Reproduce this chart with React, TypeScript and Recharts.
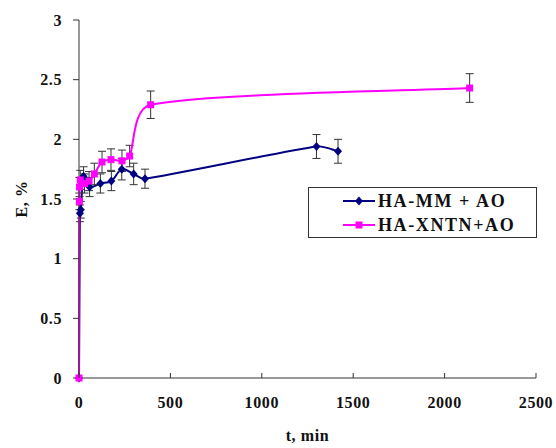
import React from "react";
import { LineChart, Line, XAxis, YAxis, ErrorBar, Legend } from "recharts";

// HA-MM + AO (navy diamonds)
const mmTime = [0, 5, 10, 25, 58, 117, 177, 234, 299, 361, 1299, 1417];
const mmE = [0, 1.38, 1.41, 1.69, 1.6, 1.63, 1.65, 1.75, 1.71, 1.67, 1.94, 1.9];
const mmErr = [0, 0.07, 0.07, 0.08, 0.08, 0.08, 0.08, 0.09, 0.09, 0.08, 0.1, 0.1];

// HA-XNTN+AO (magenta squares)
const xnTime = [0, 2, 3, 7, 30, 55, 84, 126, 175, 235, 277, 392, 2137];
const xnE = [0, 1.48, 1.6, 1.66, 1.63, 1.65, 1.71, 1.81, 1.83, 1.82, 1.86, 2.29, 2.43];
const xnErr = [0, 0.07, 0.08, 0.08, 0.08, 0.08, 0.09, 0.09, 0.09, 0.09, 0.09, 0.115, 0.12];

const xTicks = [0, 500, 1000, 1500, 2000, 2500];
const yTicks = [0, 0.5, 1, 1.5, 2, 2.5, 3];

const seriesNames = ["HA-MM + AO", "HA-XNTN+AO"];
const NAVY = "#000080";
const MAGENTA = "#ff00ff";
const FONT = "'Liberation Serif', 'Times New Roman', serif";

const mmData = mmTime.map((t, i) => ({ t, e: mmE[i], err: mmErr[i] }));
const xnData = xnTime.map((t, i) => ({ t, e: xnE[i], err: xnErr[i] }));

// Excel-like smoothing: Catmull-Rom tangents, handles capped at 1/3 of the segment
const smoothCurve = (context: any) => {
  let pts: number[][] = [];
  const tangent = (i: number) => {
    const a = pts[i - 1] || pts[i];
    const b = pts[i + 1] || pts[i];
    const dx = b[0] - a[0];
    const dy = b[1] - a[1];
    const len = Math.hypot(dx, dy) || 1;
    return [dx / len, dy / len, len / 6];
  };
  return {
    areaStart() {},
    areaEnd() {},
    lineStart() {
      pts = [];
    },
    point(x: number, y: number) {
      pts.push([+x, +y]);
    },
    lineEnd() {
      if (!pts.length) return;
      context.moveTo(pts[0][0], pts[0][1]);
      for (let i = 0; i < pts.length - 1; i++) {
        const p1 = pts[i];
        const p2 = pts[i + 1];
        const cap = Math.hypot(p2[0] - p1[0], p2[1] - p1[1]) / 3;
        const t1 = tangent(i);
        const t2 = tangent(i + 1);
        const h1 = Math.min(t1[2], cap);
        const h2 = Math.min(t2[2], cap);
        context.bezierCurveTo(
          p1[0] + t1[0] * h1,
          p1[1] + t1[1] * h1,
          p2[0] - t2[0] * h2,
          p2[1] - t2[1] * h2,
          p2[0],
          p2[1]
        );
      }
    },
  };
};

const Diamond = (props: any) => {
  const { cx, cy, index } = props;
  return (
    <polygon
      key={"d" + index}
      points={`${cx},${cy - 4.5} ${cx + 4},${cy} ${cx},${cy + 4.5} ${cx - 4},${cy}`}
      fill={NAVY}
    />
  );
};

const Square = (props: any) => {
  const { cx, cy, index } = props;
  return <rect key={"s" + index} x={cx - 3.5} y={cy - 3.5} width={7} height={7} fill={MAGENTA} />;
};

const XTick = (props: any) => {
  const { x, y, payload } = props;
  return (
    <g>
      <line x1={x} y1={y} x2={x} y2={y - 5} stroke="#333" />
      <text
        x={x}
        y={y + 30}
        textAnchor="middle"
        fontFamily={FONT}
        fontWeight="bold"
        fontSize={16}
        letterSpacing={0.6}
        fill="#111"
      >
        {payload.value}
      </text>
    </g>
  );
};

const YTitle = (props: any) => {
  const { viewBox } = props;
  const cx = viewBox.x + 21;
  const cy = viewBox.y + viewBox.height / 2;
  return (
    <text
      x={cx}
      y={cy}
      transform={`rotate(-90 ${cx} ${cy})`}
      textAnchor="middle"
      dominantBaseline="central"
      fontFamily={FONT}
      fontWeight="bold"
      fontSize={16}
      letterSpacing={0.6}
      fill="#111"
    >
      E, %
    </text>
  );
};

const XTitle = (props: any) => {
  const { viewBox } = props;
  return (
    <text
      x={viewBox.x + viewBox.width / 2}
      y={viewBox.y + 63}
      textAnchor="middle"
      fontFamily={FONT}
      fontWeight="bold"
      fontSize={16}
      letterSpacing={0.6}
      fill="#111"
    >
      t, min
    </text>
  );
};

const LegendBox = () => (
  <div
    style={{
      width: 227,
      height: 49,
      border: "1px solid #333",
      background: "#fff",
      fontFamily: FONT,
      fontWeight: "bold",
      fontSize: 18,
      letterSpacing: 1.6,
      color: "#111",
    }}
  >
    {seriesNames.map((name, i) => (
      <div key={name} style={{ display: "flex", alignItems: "center", height: 24, marginTop: i === 0 ? 1 : 0 }}>
        <svg width={68} height={24} style={{ display: "block" }}>
          <line x1={34} y1={12} x2={66} y2={12} stroke={i === 0 ? NAVY : MAGENTA} strokeWidth={2} />
          {i === 0 ? (
            <polygon points="50,7.5 54,12 50,16.5 46,12" fill={NAVY} />
          ) : (
            <rect x={46.5} y={8.5} width={7} height={7} fill={MAGENTA} />
          )}
        </svg>
        <span style={{ marginLeft: 1 }}>{name}</span>
      </div>
    ))}
  </div>
);

export default function App() {
  return (
    <div style={{ position: "absolute", left: 0, top: 0, width: 556, height: 448, background: "#fff" }}>
      <LineChart width={556} height={448} margin={{ top: 20, right: 20, bottom: 0, left: 0 }}>
        <XAxis
          dataKey="t"
          type="number"
          domain={[0, 2500]}
          ticks={xTicks}
          height={70}
          axisLine={{ stroke: "#333" }}
          tickLine={false}
          tickSize={0}
          tickMargin={0}
          tick={<XTick />}
          label={{ content: <XTitle /> }}
          allowDuplicatedCategory={false}
        />
        <YAxis
          type="number"
          domain={[0, 3]}
          ticks={yTicks}
          width={79}
          axisLine={{ stroke: "#333" }}
          tickLine={{ stroke: "#333" }}
          tickSize={6}
          tickMargin={11}
          tick={{ fontFamily: FONT, fontWeight: "bold", fontSize: 16, fill: "#111", letterSpacing: 0.6 }}
          label={{ content: <YTitle /> }}
        />
        <Legend
          layout="vertical"
          align="center"
          verticalAlign="middle"
          content={<LegendBox />}
          wrapperStyle={{ position: "absolute", left: 308, top: 187, width: 229, height: 51 }}
        />
        <Line
          data={mmData}
          dataKey="e"
          name={seriesNames[0]}
          type={smoothCurve as any}
          stroke={NAVY}
          strokeWidth={2}
          dot={<Diamond />}
          activeDot={false}
          isAnimationActive={false}
        >
          <ErrorBar dataKey="err" direction="y" width={4} stroke="#333" strokeWidth={1} isAnimationActive={false} />
        </Line>
        <Line
          data={xnData}
          dataKey="e"
          name={seriesNames[1]}
          type={smoothCurve as any}
          stroke={MAGENTA}
          strokeWidth={2}
          dot={<Square />}
          activeDot={false}
          isAnimationActive={false}
        >
          <ErrorBar dataKey="err" direction="y" width={4} stroke="#333" strokeWidth={1} isAnimationActive={false} />
        </Line>
      </LineChart>
    </div>
  );
}
